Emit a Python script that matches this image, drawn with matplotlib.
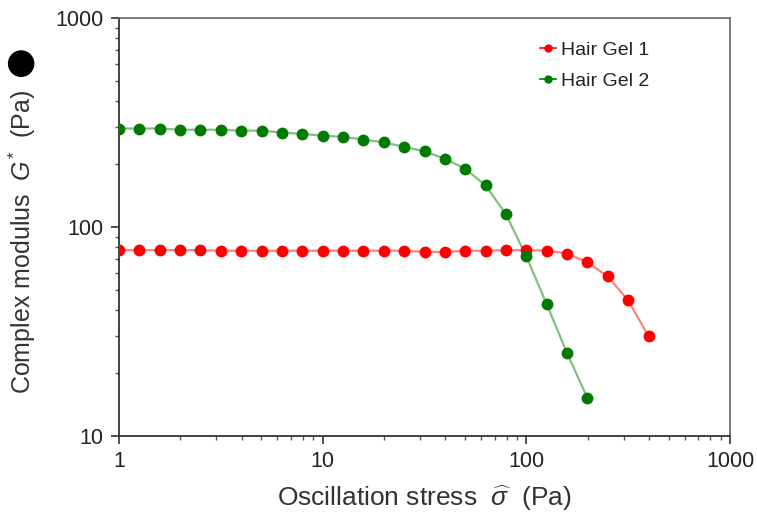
import numpy as np
import matplotlib
matplotlib.use("Agg")
import matplotlib.pyplot as plt
from matplotlib.ticker import LogLocator, FixedLocator, FixedFormatter, NullFormatter

plt.rcParams['font.family'] = ['Liberation Sans', 'DejaVu Sans']
plt.rcParams['mathtext.fontset'] = 'custom'
plt.rcParams['mathtext.rm'] = 'Liberation Sans'
plt.rcParams['mathtext.it'] = 'Liberation Sans:italic'
plt.rcParams['mathtext.bf'] = 'Liberation Sans:bold'

# Oscillation stress sweep, 10 points per decade (Pa)
stress_gel1 = [10 ** (i / 10) for i in range(27)]
stress_gel2 = [10 ** (i / 10) for i in range(24)]

# Complex modulus G* (Pa)
modulus_gel1 = [77.5, 77.5, 77.5, 77.5, 77.5, 77, 77, 77, 77, 77,
                77, 77, 77, 77, 77, 76, 76, 77, 77, 77.5,
                77.5, 77, 74.6, 67.8, 58, 44.6, 30]
modulus_gel2 = [296, 296, 296, 292, 292, 292, 289, 289, 283, 279,
                273, 270, 262, 254, 242, 230, 212, 190, 158, 115,
                72.3, 42.7, 24.9, 15.2]

series_names = ["Hair Gel 1", "Hair Gel 2"]
x_ticks = [1, 10, 100, 1000]
x_tick_labels = ["1", "10", "100", "1000"]
y_ticks = [10, 100, 1000]
y_tick_labels = ["10", "100", "1000"]

W, H = 757, 514
fig = plt.figure(figsize=(W / 100, H / 100), dpi=100)
ax = fig.add_axes([119 / W, (H - 436) / H, (730 - 119) / W, (436 - 18) / H])

for xs, ys, col, lcol, name in [
    (stress_gel1, modulus_gel1, '#ff0000', '#ff8080', series_names[0]),
    (stress_gel2, modulus_gel2, '#007a00', '#80c080', series_names[1]),
]:
    ax.plot(xs, ys, '-', color=lcol, lw=1.6, zorder=2)
    ax.plot(xs, ys, 'o', color=col, ms=7.5, mec=col, zorder=3)
    ax.plot([], [], '-o', color=col, ms=5, lw=1.2, label=name)

ax.set_xscale('log')
ax.set_yscale('log')
ax.set_xlim(1, 1000)
ax.set_ylim(10, 1000)

ax.xaxis.set_major_locator(FixedLocator(x_ticks))
ax.xaxis.set_major_formatter(FixedFormatter(x_tick_labels))
ax.yaxis.set_major_locator(FixedLocator(y_ticks))
ax.yaxis.set_major_formatter(FixedFormatter(y_tick_labels))
ax.xaxis.set_minor_locator(LogLocator(base=10, subs=np.arange(2, 10)))
ax.yaxis.set_minor_locator(LogLocator(base=10, subs=np.arange(2, 10)))
ax.xaxis.set_minor_formatter(NullFormatter())
ax.yaxis.set_minor_formatter(NullFormatter())

ax.tick_params(which='major', direction='out', length=6, width=1.2, color='#333333',
               labelsize=15.5, labelcolor='#222222', pad=5)
ax.tick_params(which='minor', direction='out', length=3, width=1.0, color='#555555')
ax.tick_params(top=False, right=False, which='both')

for side in ['left', 'bottom']:
    ax.spines[side].set_color('#333333')
    ax.spines[side].set_linewidth(1.3)
for side in ['top', 'right']:
    ax.spines[side].set_color('#666666')
    ax.spines[side].set_linewidth(1.2)

ax.set_xlabel(r"Oscillation stress  $\widehat{\sigma}$  (Pa)", fontsize=19,
              color='#333333', labelpad=8)

fig.text(22 / W, 1 - 242 / H, r"Complex modulus  $G^{*}$  (Pa)", rotation=90,
         fontsize=18, color='#333333', ha='center', va='center')
fig.text(20 / W, 1 - 63 / H, "●", fontsize=25, color='black',
         ha='center', va='center', family=['DejaVu Sans'])

leg = ax.legend(loc='upper left', bbox_to_anchor=(0.677, 0.962), frameon=False,
                fontsize=14, handlelength=0.8, handletextpad=0.25,
                labelspacing=0.65, borderaxespad=0)
for t in leg.get_texts():
    t.set_color('#222222')

fig.savefig("out.png", dpi=100)
